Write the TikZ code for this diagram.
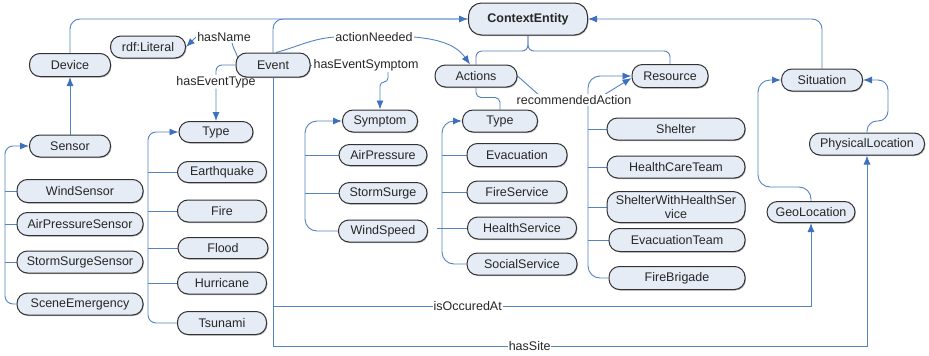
\documentclass[tikz,border=0pt]{standalone}
\usepackage{fontspec}
\setmainfont{Liberation Sans}
\usetikzlibrary{arrows.meta,shadows}
\definecolor{nfill}{RGB}{230,236,246}
\definecolor{nline}{RGB}{50,50,50}
\definecolor{cblue}{RGB}{84,132,192}
\definecolor{ablue}{RGB}{62,112,192}
\pgfdeclarelayer{paper}
\pgfdeclarelayer{bg}
\pgfsetlayers{paper,bg,main}
\tikzset{
 cls/.style={draw=nline, fill=nfill, line width=1pt, rounded corners=10.5pt, inner sep=0pt,
   font=\fontsize{12.5}{13.5}\selectfont, text=black!85, align=center,
   drop shadow={shadow xshift=0.8pt,shadow yshift=-1pt,fill=black!50,opacity=0.6}},
 conn/.style={draw=cblue, line width=0.9pt},
 arr/.style={-{Latex[length=9pt,width=7pt,fill=ablue,color=ablue]}},
 lbl/.style={fill=white, inner sep=1pt, text=black!85, font=\fontsize{12.5}{13.5}\selectfont},
}
\begin{document}
\begin{tikzpicture}[x=1pt,y=-1pt]
\begin{pgfonlayer}{paper}
\useasboundingbox[fill=white] (0,0) rectangle (929,356);
\end{pgfonlayer}
% nodes
\node[cls,minimum width=81pt,minimum height=23pt] (dev) at (70,65) {Device};
\node[cls,minimum width=75pt,minimum height=22pt] (lit) at (148,47) {rdf:Literal};
\node[cls,minimum width=74pt,minimum height=24pt] (ev) at (273,65) {Event};
\node[cls,minimum width=119pt,minimum height=32pt,rounded corners=13pt,font=\fontsize{12.5}{13.5}\selectfont\bfseries] (ce) at (528,19) {ContextEntity};
\node[cls,minimum width=82pt,minimum height=22pt] (act) at (476,76) {Actions};
\node[cls,minimum width=76pt,minimum height=23pt] (res) at (670,76) {Resource};
\node[cls,minimum width=81pt,minimum height=22pt] (sit) at (822,80) {Situation};
\node[cls,minimum width=81pt,minimum height=22pt] (sen) at (70,146) {Sensor};
\node[cls,minimum width=126pt,minimum height=23pt] (ws) at (80,191) {WindSensor};
\node[cls,minimum width=126pt,minimum height=23pt] (aps) at (80,224) {AirPressureSensor};
\node[cls,minimum width=126pt,minimum height=22pt] (sss) at (80,262) {StormSurgeSensor};
\node[cls,minimum width=126pt,minimum height=22pt] (sce) at (80,304) {SceneEmergency};
\node[cls,minimum width=74pt,minimum height=21pt] (et) at (216,132) {Type};
\node[cls,minimum width=89pt,minimum height=21pt] (eq) at (222,172) {Earthquake};
\node[cls,minimum width=89pt,minimum height=22pt] (fi) at (222,211) {Fire};
\node[cls,minimum width=90pt,minimum height=21pt] (fl) at (223,248) {Flood};
\node[cls,minimum width=89pt,minimum height=22pt] (hu) at (222,283) {Hurricane};
\node[cls,minimum width=89pt,minimum height=23pt] (ts) at (222,323) {Tsunami};
\node[cls,minimum width=75pt,minimum height=22pt] (sym) at (380,121) {Symptom};
\node[cls,minimum width=88pt,minimum height=21pt] (ap) at (383,155) {AirPressure};
\node[cls,minimum width=88pt,minimum height=21pt] (ss) at (383,193) {StormSurge};
\node[cls,minimum width=89pt,minimum height=22pt] (wsp) at (383,231) {WindSpeed};
\node[cls,minimum width=75pt,minimum height=22pt] (at) at (500,121) {Type};
\node[cls,minimum width=100pt,minimum height=23pt] (eva) at (517,155) {Evacuation};
\node[cls,minimum width=100pt,minimum height=22pt] (fs) at (517,192) {FireService};
\node[cls,minimum width=109pt,minimum height=22pt] (hs) at (522,228) {HealthService};
\node[cls,minimum width=110pt,minimum height=22pt] (so) at (522,264) {SocialService};
\node[cls,minimum width=138pt,minimum height=22pt] (sh) at (676,129) {Shelter};
\node[cls,minimum width=138pt,minimum height=22pt] (hct) at (676,167) {HealthCareTeam};
\node[cls,minimum width=138pt,minimum height=31pt,rounded corners=12pt] (swhs) at (676,207) {ShelterWithHealthSer\\vice};
\node[cls,minimum width=136pt,minimum height=23pt] (evt) at (677,240) {EvacuationTeam};
\node[cls,minimum width=136pt,minimum height=23pt] (fb) at (677,278) {FireBrigade};
\node[cls,minimum width=115pt,minimum height=22pt] (pl) at (867,144) {PhysicalLocation};
\node[cls,minimum width=88pt,minimum height=21pt] (geo) at (811,212) {GeoLocation};
% labels
\node[lbl] (hn) at (224,37) {hasName};
\node[lbl] (an) at (374,37) {actionNeeded};
\node[lbl] (hes) at (366,65) {hasEventSymptom};
\node[lbl] (ra) at (574,100) {recommendedAction};
% trunk coordinates
\coordinate (sT) at (5,225);
\coordinate (eT) at (148,230);
\coordinate (yT) at (305,175);
\coordinate (aT) at (442,190);
\coordinate (rT) at (588,200);
\coordinate (j1) at (273,306);
\coordinate (j2) at (273,346);
\coordinate (ceb) at (528,51);
\begin{pgfonlayer}{bg}
% subclass links to ContextEntity
\draw[conn,arr,rounded corners=10pt] (dev.north) |- (ce.west);
\draw[conn,rounded corners=10pt] (ev.north) |- (ce.west);
\draw[conn,arr,rounded corners=10pt] (sit.north) |- (ce.east);
\draw[conn,rounded corners=6pt] (act.north) |- (ceb) -| (ce.south);
\draw[conn,rounded corners=6pt] (res.north) |- (ceb) -| (ce.south);
\draw[conn,arr] (sen.north) -- (dev.south);
% Sensor tree
\draw[conn,arr,rounded corners=8pt] (sce.west) -| (sT) |- (sen.west);
\draw[conn] (ws.west -| sT) -- (ws.west);
\draw[conn] (aps.west -| sT) -- (aps.west);
\draw[conn] (sss.west -| sT) -- (sss.west);
% Event type tree
\draw[conn,arr,rounded corners=8pt] (ts.west) -| (eT) |- (et.west);
\draw[conn] (eq.west -| eT) -- (eq.west);
\draw[conn] (fi.west -| eT) -- (fi.west);
\draw[conn] (fl.west -| eT) -- (fl.west);
\draw[conn] (hu.west -| eT) -- (hu.west);
% Symptom tree
\draw[conn,arr,rounded corners=12pt] (wsp.west) -| (yT) |- (sym.west);
\draw[conn] (ap.west -| yT) -- (ap.west);
\draw[conn] (ss.west -| yT) -- (ss.west);
% Action type tree
\draw[conn,arr,rounded corners=12pt] (so.west) -| (aT) |- (at.west);
\draw[conn] (eva.west -| aT) -- (eva.west);
\draw[conn] (fs.west -| aT) -- (fs.west);
\draw[conn] ([xshift=-5pt]hs.west -| aT) -- (hs.west);
% Resource tree
\draw[conn,arr,rounded corners=12pt] (fb.west) -| (rT) |- (res.west);
\draw[conn] (sh.west -| rT) -- (sh.west);
\draw[conn] (hct.west -| rT) -- (hct.west);
\draw[conn] (swhs.west -| rT) -- (swhs.west);
\draw[conn] (evt.west -| rT) -- (evt.west);
% Actions - Type
\draw[conn,rounded corners=5pt] (act.south) |- ([yshift=12pt]at.north) -- (at.north);
% properties
\draw[conn,arr,rounded corners=6pt] (ev.west) -| node[lbl,pos=0.65]{hasEventType} (et.north);
\draw[conn] ([shift={(-35pt,5pt)}]ev.center) to[out=95,in=-80] ([xshift=8pt]hn.south);
\draw[conn,arr] (hn.west) -- (lit.east);
\draw[conn] ([xshift=3pt]ev.north) to[out=15,in=185] (an.west);
\draw[conn,arr] (an.east) to[out=-5,in=125] ([xshift=-6pt]act.north);
\draw[conn] (ev.east) -- (hes.west);
\draw[conn,arr,rounded corners=4pt] ([xshift=22pt]hes.south) |- ([yshift=-10pt]hes.south -| sym.north) -- (sym.north);
\draw[conn] (act.east) -- ([xshift=-36pt]ra.north);
\draw[conn,arr] ([xshift=31pt]ra.north) -- ([yshift=-2pt]res.west);
% locations
\draw[conn,arr,rounded corners=12pt] (geo.north) |- (758,187) |- (sit.west);
\draw[conn,arr,rounded corners=10pt] (pl.north) |- (888,121) |- (sit.east);
\draw[conn] (ev.south) -- (j2);
\draw[conn,arr] (j1) -| node[lbl,pos=0.181]{isOccuredAt} (geo.south);
\draw[conn,arr] (j2) -| node[lbl,pos=0.216]{hasSite} (pl.south);
\end{pgfonlayer}
\end{tikzpicture}
\end{document}
